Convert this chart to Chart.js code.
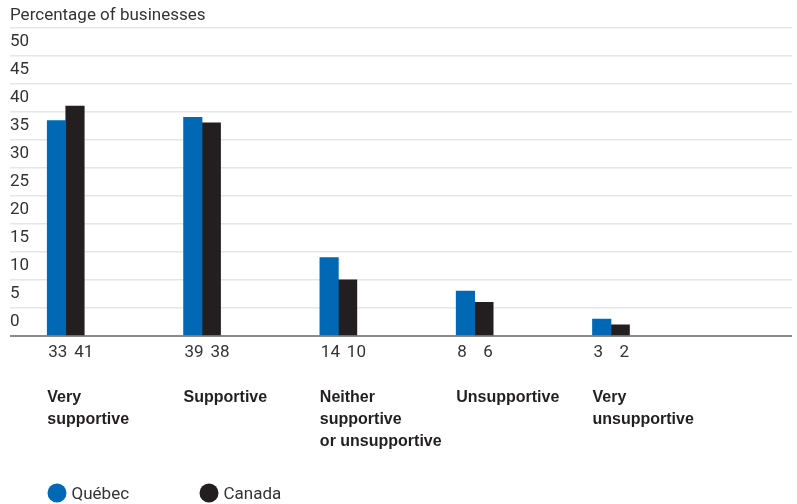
<!DOCTYPE html>
<html>
<head>
<meta charset="utf-8">
<script src="https://cdn.jsdelivr.net/npm/chart.js@4.4.1/dist/chart.umd.min.js"></script>
<style>
    html, body { margin: 0; padding: 0; background: #fff; }
    #wrap { position: relative; width: 797px; height: 504px; }
</style>
</head>
<body>
<div id="wrap"><canvas id="mainChart" width="797" height="504"></canvas></div>
<script>
// Chart data
const categories = [
    ['Very', 'supportive'],
    ['Supportive'],
    ['Neither', 'supportive', 'or unsupportive'],
    ['Unsupportive'],
    ['Very', 'unsupportive']
];
const seriesNames = ['Québec', 'Canada'];
const quebecValues = [38.4, 39, 14, 8, 3];
const canadaValues = [41, 38, 10, 6, 2];
// numbers printed under the bars (as in the source figure)
const quebecPrinted = ['33', '39', '14', '8', '3'];
const canadaPrinted = ['41', '38', '10', '6', '2'];
const yTicks = [0, 5, 10, 15, 20, 25, 30, 35, 40, 45, 50];

const BLUE = '#0068b4';
const BLACK = '#231f20';
const TEXT = '#333333';
const NUM_FONT = '17px Roboto';

// Custom text: title, values under bars, category names, legend
const annotations = {
    id: 'annotations',
    afterDraw(chart) {
        const ctx = chart.ctx;
        const blueMeta = chart.getDatasetMeta(0);
        ctx.save();
        ctx.fillStyle = TEXT;
        ctx.textBaseline = 'alphabetic';
        ctx.textAlign = 'left';

        ctx.font = NUM_FONT;
        ctx.fillText('Percentage of businesses', 10, 20);

        blueMeta.data.forEach((bar, i) => {
            const left = bar.x - bar.width / 2;
            ctx.font = NUM_FONT;
            ctx.fillStyle = TEXT;
            ctx.fillText(quebecPrinted[i], left + 1, 357);
            ctx.fillText(canadaPrinted[i], left + 27, 357);

            ctx.font = 'bold 16px "Liberation Sans", Arial, sans-serif';
            ctx.fillStyle = BLACK;
            categories[i].forEach((line, j) => {
                ctx.fillText(line, left, 402 + j * 22);
            });
        });

        // legend
        const legendX = [47.5, 199.5];
        const colors = [BLUE, BLACK];
        seriesNames.forEach((name, i) => {
            ctx.beginPath();
            ctx.fillStyle = colors[i];
            ctx.arc(legendX[i] + 9.5, 493, 9.5, 0, Math.PI * 2);
            ctx.fill();
            ctx.fillStyle = TEXT;
            ctx.font = NUM_FONT;
            ctx.fillText(name, legendX[i] + 24, 499);
        });
        ctx.restore();
    }
};

const mainCtx = document.getElementById('mainChart').getContext('2d');

const mainChart = new Chart(mainCtx, {
    type: 'bar',
    data: {
        datasets: [
            {
                label: seriesNames[0],
                data: quebecValues.map((v, i) => ({ x: i, y: v })),
                backgroundColor: BLUE,
                borderWidth: 0,
                barThickness: 18.5
            },
            {
                label: seriesNames[1],
                data: canadaValues.map((v, i) => ({ x: i, y: v })),
                backgroundColor: BLACK,
                borderWidth: 0,
                barThickness: 18.5
            }
        ]
    },
    options: {
        responsive: false,
        animation: false,
        layout: {
            padding: { left: 10, right: 5, top: 27.5, bottom: 168 }
        },
        plugins: {
            legend: { display: false },
            tooltip: { enabled: false }
        },
        scales: {
            x: {
                type: 'linear',
                display: false,
                min: -0.409,
                max: 5.328,
                offset: false
            },
            y: {
                min: 0,
                max: 55,
                afterBuildTicks: (axis) => {
                    axis.ticks = yTicks.concat([55]).map(v => ({ value: v }));
                },
                ticks: {
                    mirror: true,
                    padding: 0,
                    labelOffset: -14,
                    color: TEXT,
                    font: { family: 'Roboto', size: 17 },
                    callback: (value) => (yTicks.includes(value) ? String(value) : '')
                },
                grid: {
                    drawTicks: false,
                    color: (c) => (c.tick && c.tick.value === 0 ? '#8a8a8a' : '#e6e6e6'),
                    lineWidth: (c) => (c.tick && c.tick.value === 0 ? 2 : 1.5)
                },
                border: { display: false }
            }
        }
    },
    plugins: [annotations]
});
</script>
</body>
</html>
